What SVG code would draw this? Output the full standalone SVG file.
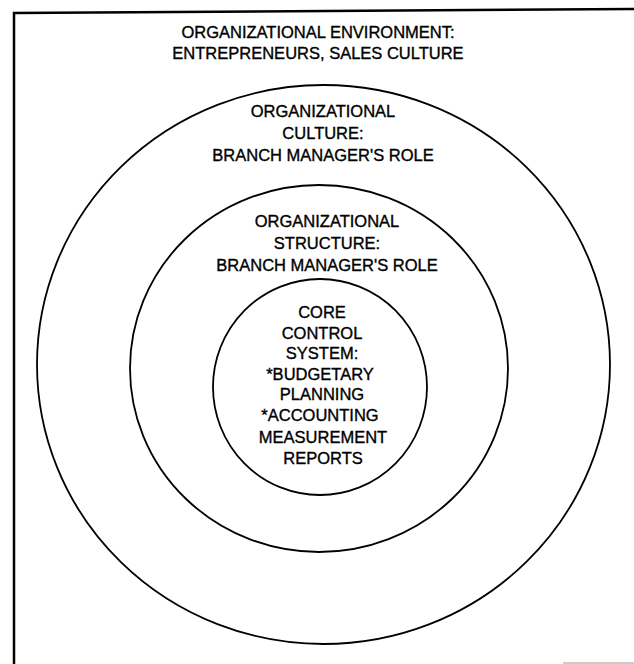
<svg xmlns="http://www.w3.org/2000/svg" width="634" height="664" viewBox="0 0 634 664">
<style>
.ring{fill:none;stroke:#000;stroke-width:1.8}
.frame{fill:none;stroke:#000;stroke-width:2.5}
text{font-family:"Liberation Sans",Arial,sans-serif;font-size:16.5px;fill:#000;stroke:#000;stroke-width:0.35;text-anchor:middle}
</style>
<rect width="634" height="664" fill="#fff"/>
<g id="frame">
<path class="frame" d="M14 664 L14 13 L634 9"/>
<path d="M563 663 L634 663" stroke="#bbb" stroke-width="1.5"/>
</g>
<g id="environment">
<ellipse class="ring" cx="323.5" cy="364.5" rx="286.5" ry="279.5"/>
<text x="318" y="38">ORGANIZATIONAL ENVIRONMENT:</text>
<text x="318" y="59">ENTREPRENEURS, SALES CULTURE</text>
</g>
<g id="culture">
<ellipse class="ring" cx="319" cy="368.5" rx="189" ry="183.5"/>
<text x="323" y="117">ORGANIZATIONAL</text>
<text x="323" y="139">CULTURE:</text>
<text x="323" y="161">BRANCH MANAGER'S ROLE</text>
</g>
<g id="structure">
<ellipse class="ring" cx="320" cy="387" rx="107" ry="108"/>
<text x="327" y="227">ORGANIZATIONAL</text>
<text x="327" y="249">STRUCTURE:</text>
<text x="327" y="271">BRANCH MANAGER'S ROLE</text>
</g>
<g id="core">
<text x="322" y="318">CORE</text>
<text x="322" y="339">CONTROL</text>
<text x="322" y="359">SYSTEM:</text>
<text x="320" y="380">*BUDGETARY</text>
<text x="322" y="400">PLANNING</text>
<text x="320" y="421">*ACCOUNTING</text>
<text x="323" y="443">MEASUREMENT</text>
<text x="323" y="464">REPORTS</text>
</g>
<g id="connectors"></g>
</svg>
